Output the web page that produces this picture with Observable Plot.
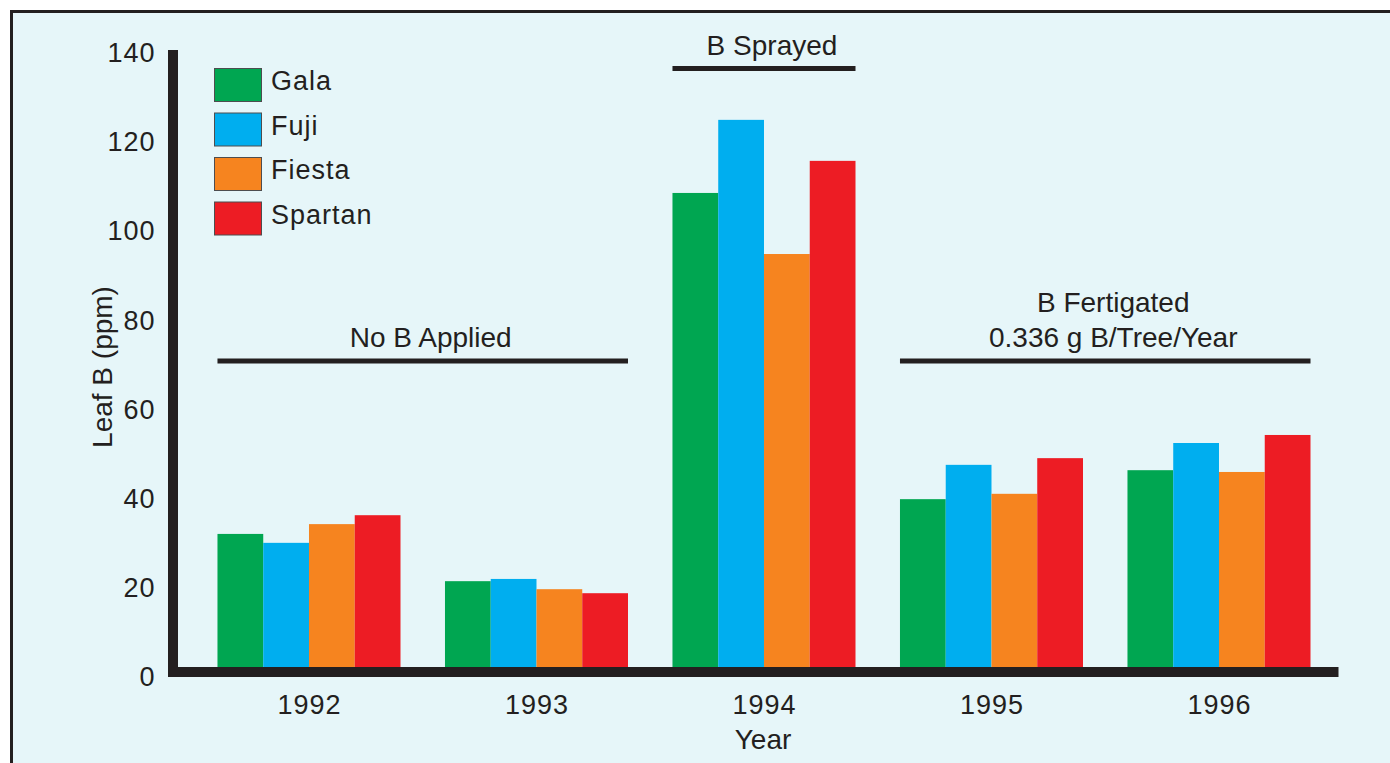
<!DOCTYPE html>
<html><head><meta charset="utf-8">
<script src="https://cdn.jsdelivr.net/npm/d3@7"></script>
<script src="https://cdn.jsdelivr.net/npm/@observablehq/plot@0.6"></script>
<style>
html,body{margin:0;padding:0;background:#fff;width:1390px;height:763px;overflow:hidden}
#panel{position:absolute;left:10px;top:10px;width:1400px;height:780px;border-left:3px solid #231f20;border-top:3px solid #231f20;background:#e6f6f9}
#chart{position:absolute;left:0;top:0}
</style></head><body><div id="panel"></div><div id="chart"></div>
<script>
const years = ["1992", "1993", "1994", "1995", "1996"];
const varieties = ["Gala", "Fuji", "Fiesta", "Spartan"];
const colors = ["#00a651", "#00aeef", "#f6841f", "#ed1c24"];
const gala = [32.1, 21.5, 108.6, 39.9, 46.4];
const fuji = [30.1, 22.0, 125.0, 47.6, 52.5];
const fiesta = [34.3, 19.7, 94.9, 41.1, 46.0];
const spartan = [36.3, 18.8, 115.8, 49.1, 54.3];
const yTicks = [0, 20, 40, 60, 80, 100, 120, 140];
const yTitle = "Leaf B (ppm)";
const xTitle = "Year";
const annotations = [
  {lines: ["No B Applied"], from: "1992", to: "1993", level: 70.9},
  {lines: ["B Sprayed"], from: "1994", to: "1994", level: 136.5},
  {lines: ["B Fertigated", "0.336 g B/Tree/Year"], from: "1995", to: "1996", level: 70.9}
];

const series = [gala, fuji, fiesta, spartan];
const data = years.flatMap((year, i) => varieties.map((variety, j) => ({year, variety, value: series[j][i]})));

const ink = "#231f20";
const font = "'Liberation Sans', Arial, Helvetica, sans-serif";

const W = 1390, H = 763, mL = 173, mR = 79.5, mT = 53, mB = 86;
const xPadOuter = 0.486;
const fxStep = (W - mL - mR) / years.length;
const xStep = fxStep / (varieties.length + 2 * xPadOuter);
const groupShift = xPadOuter * xStep; // bar group centre vs facet centre (align: 1)

const chart = Plot.plot({
  width: W,
  height: H,
  marginTop: mT,
  marginBottom: mB,
  marginLeft: mL,
  marginRight: mR,
  style: {fontFamily: font, fontSize: "27px", color: ink, background: "transparent", overflow: "visible"},
  fx: {domain: years, paddingInner: 0, paddingOuter: 0, round: false, label: null},
  x: {domain: varieties, paddingInner: 0, paddingOuter: xPadOuter, align: 1, round: false, axis: null},
  y: {domain: [0, 140]},
  color: {domain: varieties, range: colors},
  marks: [
    Plot.barY(data, {fx: "year", x: "variety", y: "value", fill: "variety"}),
    Plot.axisY({ticks: yTicks, tickSize: 0, tickPadding: 18, fontSize: 27, label: null, fill: ink}),
    Plot.axisFx({anchor: "bottom", tickSize: 0, tickPadding: 17, fontSize: 27, label: null, fill: ink, dx: groupShift})
  ]
});
document.getElementById("chart").appendChild(chart);

const svg = d3.select(chart);
svg.selectAll("text").style("letter-spacing", "1px");

const fx = chart.scale("fx"), xs = chart.scale("x"), ys = chart.scale("y");
const groupStart = yr => fx.apply(yr) + xs.apply(varieties[0]) - xs.range[0];
const groupEnd = yr => fx.apply(yr) + xs.apply(varieties[varieties.length - 1]) + xs.bandwidth - xs.range[0];

// axis lines (drawn from the library's scales)
const axisX0 = fx.range[0];
const y0 = ys.apply(0), yTop = ys.apply(yTicks[yTicks.length - 1]);
const axes = svg.append("g").attr("fill", ink);
axes.append("rect").attr("x", axisX0 - 5).attr("y", yTop - 3).attr("width", 10).attr("height", y0 - yTop + 3);
axes.append("rect").attr("x", axisX0 - 5).attr("y", y0 - 10)
  .attr("width", groupEnd(years[years.length - 1]) + 28 - (axisX0 - 5)).attr("height", 10);

const ann = svg.append("g").attr("font-family", font).attr("font-size", 28).attr("fill", ink);
annotations.forEach(a => {
  const x1 = groupStart(a.from), x2 = groupEnd(a.to), yy = ys.apply(a.level);
  ann.append("line").attr("x1", x1).attr("x2", x2).attr("y1", yy).attr("y2", yy)
    .attr("stroke", ink).attr("stroke-width", 5);
  a.lines.forEach((t, k) => {
    ann.append("text").attr("x", (x1 + x2) / 2 + 8).attr("y", yy - 14 - (a.lines.length - 1 - k) * 35)
      .attr("text-anchor", "middle").text(t);
  });
});

// axis titles
ann.append("text").attr("transform", "translate(102,367) rotate(-90)").attr("dy", "0.35em")
  .attr("text-anchor", "middle").text(yTitle);
ann.append("text").attr("x", 763).attr("y", 749).attr("text-anchor", "middle").text(xTitle);

// legend
const lg = svg.append("g").attr("font-family", font).attr("font-size", 27).attr("fill", ink)
  .attr("text-anchor", "start").style("letter-spacing", "1px");
varieties.forEach((v, i) => {
  const top = 68 + i * 44.5;
  lg.append("rect").attr("x", 214.5).attr("y", top + 0.5).attr("width", 47).attr("height", 33)
    .attr("fill", colors[i]).attr("stroke", "#4d4d4f").attr("stroke-width", 1);
  lg.append("text").attr("x", 271).attr("y", top + 22).text(v);
});
</script>
</body></html>
